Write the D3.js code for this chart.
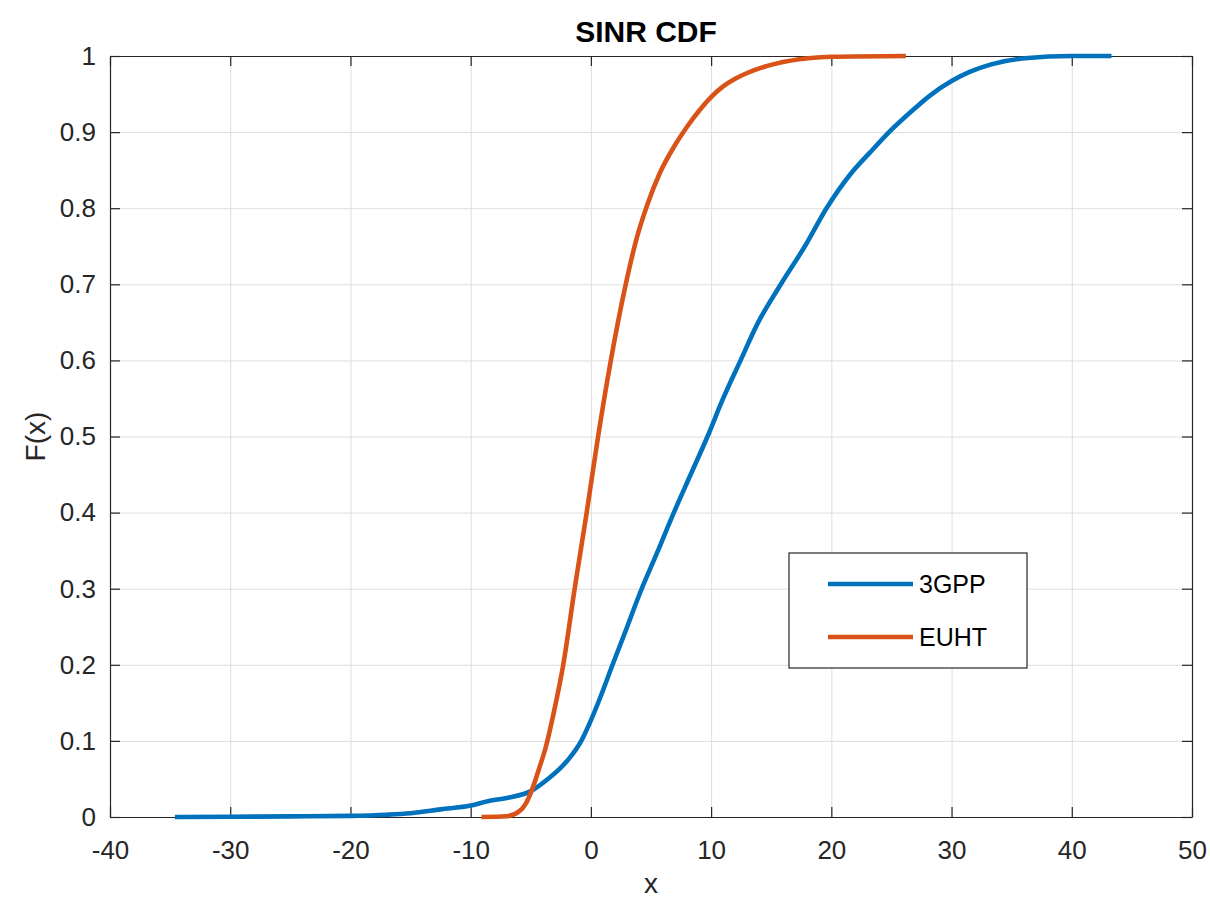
<!DOCTYPE html>
<html>
<head>
<meta charset="utf-8">
<script src="https://cdn.jsdelivr.net/npm/d3@7"></script>
<style>
  body { margin: 0; background: #fff; }
  svg { font-family: "Liberation Sans", Arial, sans-serif; }
  .grid line { stroke: #dedede; stroke-width: 1; }
  .grid .domain { display: none; }
  .axis path, .axis line { stroke: #262626; stroke-width: 1.2; }
  .axis text { fill: #262626; font-size: 26px; }
</style>
</head>
<body>
<script>
const width = 1210,
  height = 900;

// tick values
const xTicks = [-40, -30, -20, -10, 0, 10, 20, 30, 40, 50];
const yTicks = [0, 0.1, 0.2, 0.3, 0.4, 0.5, 0.6, 0.7, 0.8, 0.9, 1];

// series
const seriesNames = ['3GPP', 'EUHT'];
const seriesColors = ['#0072BD', '#D95319'];

const gppX = [-34.6, -30, -25, -20, -17, -15, -12.5, -10, -8.5, -7, -5, -3.5, -2.5, -1.8, -0.8, 0, 0.9, 1.8, 2.9, 4.1, 5.5, 6.9, 8.3, 9.7, 11.0, 12.45, 13.85, 15.8, 17.8, 19.6, 21.6, 23.2, 24.8, 27.0, 28.2, 30, 31.5, 33.3, 36.1, 40, 43.3];
const gppY = [0, 0.0003, 0.0008, 0.0015, 0.003, 0.005, 0.010, 0.015, 0.021, 0.025, 0.034, 0.051, 0.065, 0.077, 0.10, 0.127, 0.162, 0.2, 0.245, 0.295, 0.347, 0.4, 0.45, 0.5, 0.55, 0.6, 0.648, 0.7, 0.75, 0.8, 0.845, 0.873, 0.9, 0.932, 0.948, 0.967, 0.979, 0.989, 0.997, 1.0, 1.0];

const euhtX = [-9.1, -7, -6.0, -5.4, -4.85, -4.3, -3.75, -3.05, -2.3, -1.35, -0.35, 0.6, 1.66, 2.9, 3.8, 4.7, 5.7, 7.0, 8.0, 9.0, 10.0, 11.0, 12.0, 12.9, 15.4, 18.1, 20, 26.2];
const euhtY = [0, 0.001, 0.007, 0.018, 0.038, 0.064, 0.092, 0.14, 0.2, 0.3, 0.4, 0.5, 0.6, 0.7, 0.76, 0.805, 0.845, 0.883, 0.907, 0.928, 0.946, 0.96, 0.97, 0.977, 0.99, 0.997, 0.999, 1.0];

// plot box in pixels
const plotL = 110, plotR = 1192, plotT = 56, plotB = 817;

const x = d3.scaleLinear().domain([-40, 50]).range([plotL, plotR]);
const y = d3.scaleLinear().domain([0, 1]).range([plotB, plotT]);

const svg = d3
  .select('body')
  .append('svg')
  .attr('width', width)
  .attr('height', height);

// grid
svg.append('g')
  .attr('class', 'grid')
  .attr('transform', `translate(0,${plotB})`)
  .call(d3.axisBottom(x).tickValues(xTicks).tickSize(-(plotB - plotT)).tickFormat(''));
svg.append('g')
  .attr('class', 'grid')
  .attr('transform', `translate(${plotL},0)`)
  .call(d3.axisLeft(y).tickValues(yTicks).tickSize(-(plotR - plotL)).tickFormat(''));

// axes, ticks pointing inward (plain hyphen for negatives, like the original)
svg.append('g')
  .attr('class', 'axis')
  .attr('transform', `translate(0,${plotB})`)
  .call(d3.axisBottom(x).tickValues(xTicks).tickSizeInner(-10).tickSizeOuter(0).tickPadding(24).tickFormat(d => String(d)));
svg.append('g')
  .attr('class', 'axis')
  .attr('transform', `translate(0,${plotT})`)
  .call(d3.axisTop(x).tickValues(xTicks).tickSizeInner(-10).tickSizeOuter(0).tickFormat(''));
svg.append('g')
  .attr('class', 'axis')
  .attr('transform', `translate(${plotL},0)`)
  .call(d3.axisLeft(y).tickValues(yTicks).tickSizeInner(-10).tickSizeOuter(0).tickPadding(14).tickFormat(d => String(+d.toFixed(1))));
svg.append('g')
  .attr('class', 'axis')
  .attr('transform', `translate(${plotR},0)`)
  .call(d3.axisRight(y).tickValues(yTicks).tickSizeInner(-10).tickSizeOuter(0).tickFormat(''));

// curves
const line = d3.line()
  .x(d => x(d[0]))
  .y(d => y(d[1]))
  .curve(d3.curveMonotoneX);

const series = [
  d3.zip(gppX, gppY),
  d3.zip(euhtX, euhtY)
];

series.forEach((s, i) => {
  svg.append('path')
    .datum(s)
    .attr('fill', 'none')
    .attr('stroke', seriesColors[i])
    .attr('stroke-width', 4.6)
    .attr('stroke-linejoin', 'round')
    .attr('d', line);
});

// title and labels
svg.append('text')
  .attr('x', (plotL + plotR) / 2 - 5)
  .attr('y', 42)
  .attr('text-anchor', 'middle')
  .attr('font-size', 30)
  .attr('font-weight', 'bold')
  .attr('fill', '#000')
  .text('SINR CDF');

svg.append('text')
  .attr('x', (plotL + plotR) / 2)
  .attr('y', 893)
  .attr('text-anchor', 'middle')
  .attr('font-size', 28)
  .attr('fill', '#262626')
  .text('x');

svg.append('text')
  .attr('transform', `translate(45,${(plotT + plotB) / 2}) rotate(-90)`)
  .attr('text-anchor', 'middle')
  .attr('font-size', 28)
  .attr('fill', '#262626')
  .text('F(x)');

// legend
const legend = svg.append('g');
legend.append('rect')
  .attr('x', 789)
  .attr('y', 553)
  .attr('width', 238)
  .attr('height', 115)
  .attr('fill', '#fff')
  .attr('stroke', '#262626')
  .attr('stroke-width', 1.2);

seriesNames.forEach((name, i) => {
  const ly = 584 + i * 53;
  legend.append('line')
    .attr('x1', 828).attr('x2', 913)
    .attr('y1', ly).attr('y2', ly)
    .attr('stroke', seriesColors[i])
    .attr('stroke-width', 4.6);
  legend.append('text')
    .attr('x', 919)
    .attr('y', ly)
    .attr('dy', '0.35em')
    .attr('font-size', 25)
    .attr('fill', '#000')
    .text(name);
});
</script>
</body>
</html>
